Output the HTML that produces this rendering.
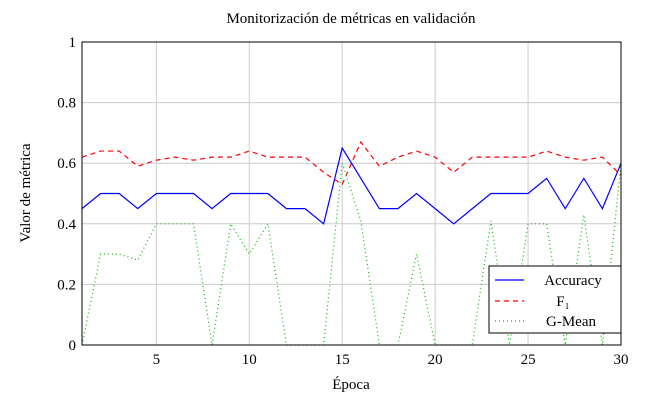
<!DOCTYPE html>
<html><head><meta charset="utf-8"><style>
body{margin:0;background:#fff}
svg text{font-family:"Liberation Serif",serif;fill:#000}
</style></head><body>
<svg id="chart" width="646" height="410">
<text x="351" y="23" font-size="15" text-anchor="middle">Monitorización de métricas en validación</text>
<text x="30" y="193" font-size="15" text-anchor="middle" transform="rotate(-90 30 193)">Valor de métrica</text>
<text x="351" y="389" font-size="15" text-anchor="middle">Época</text>
<g id="grid"></g><g id="series"></g>
<rect x="82" y="42" width="539" height="303" fill="none" stroke="#000" stroke-width="1"/>
<g>
<rect x="489" y="266" width="132" height="67" fill="#fff" stroke="#000" stroke-width="1"/>
<line x1="495" y1="280" x2="524" y2="280" stroke="#00f" stroke-width="1.2"/>
<text x="573" y="285" font-size="15" text-anchor="middle">Accuracy</text>
<line x1="495" y1="301" x2="524" y2="301" stroke="#f00" stroke-width="1.2" stroke-dasharray="5,4"/>
<text x="563" y="306" font-size="15" text-anchor="middle">F₁</text>
<line x1="495" y1="321" x2="524" y2="321" stroke="#0b0" stroke-width="1.2" stroke-dasharray="1,3"/>
<text x="571" y="326" font-size="15" text-anchor="middle">G-Mean</text>
</g>
</svg>
<script>
const epochs=[1,2,3,4,5,6,7,8,9,10,11,12,13,14,15,16,17,18,19,20,21,22,23,24,25,26,27,28,29,30];
const accuracy=[.45,.5,.5,.45,.5,.5,.5,.45,.5,.5,.5,.45,.45,.4,.65,.55,.45,.45,.5,.45,.4,.45,.5,.5,.5,.55,.45,.55,.45,.6];
const f1=[.62,.64,.64,.59,.61,.62,.61,.62,.62,.64,.62,.62,.62,.57,.53,.67,.59,.62,.64,.62,.57,.62,.62,.62,.62,.64,.62,.61,.62,.56];
const gmean=[0,.3,.3,.28,.4,.4,.4,0,.4,.3,.4,0,0,0,.6,.41,0,0,.3,0,0,0,.41,0,.4,.4,0,.43,0,.6];
const xTicks=[5,10,15,20,25,30];
const yTicks=[0,0.2,0.4,0.6,0.8,1];
const X=v=>82+(v-1)*(539/29), Y=v=>345-v*303;
const NS="http://www.w3.org/2000/svg";
const grid=document.getElementById('grid'), ser=document.getElementById('series'), svg=document.getElementById('chart');
function mk(t,a,p){const e=document.createElementNS(NS,t);for(const k in a)e.setAttribute(k,a[k]);p.appendChild(e);return e;}
xTicks.forEach(t=>{
 const g=mk('line',{x1:X(t),x2:X(t),y1:42,y2:345,stroke:'#ccc','stroke-width':1},grid);
 
 
 const l=mk('text',{x:X(t),y:364,'font-size':15,'text-anchor':'middle'},svg);l.textContent=t;
 
 
});
yTicks.forEach(t=>{
 const g=mk('line',{x1:82,x2:621,y1:Y(t),y2:Y(t),stroke:'#ccc','stroke-width':1},grid);
 
 
 const l=mk('text',{x:76,y:Y(t)+5,'font-size':15,'text-anchor':'end'},svg);l.textContent=t;
 
 
});
function line(d,c,dash,name){
 const p=mk('polyline',{points:d.map((v,i)=>X(epochs[i])+','+Y(v)).join(' '),fill:'none',stroke:c,'stroke-width':1.2,'stroke-dasharray':dash},ser);
 
 
}
line(accuracy,'#00f','none','accuracy-line');
line(f1,'#f00','5,4','f1-line');
line(gmean,'#0b0','1,3','gmean-line');
</script>
</body></html>
